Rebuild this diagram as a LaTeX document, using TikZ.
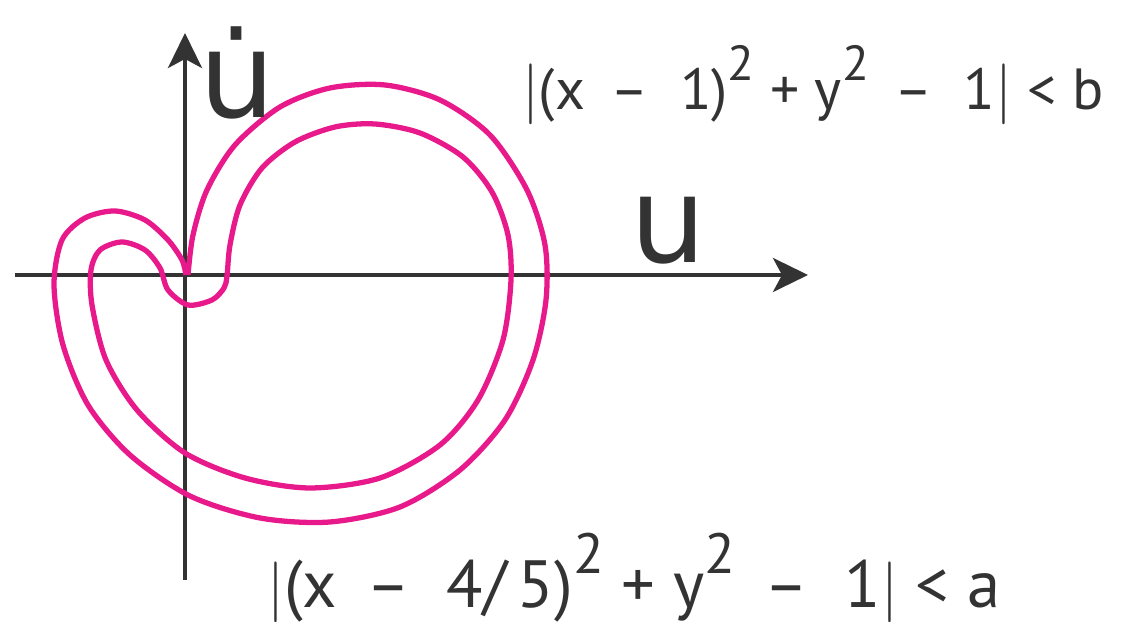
\documentclass[tikz,border=0pt]{standalone}
\usepackage{fontspec}
\setmainfont{PT Sans}
\newfontfamily\labelfont{DejaVu Sans}
\usetikzlibrary{arrows.meta}
\definecolor{tubePink}{HTML}{E8198B}
\definecolor{axisInk}{HTML}{333333}
\newcommand{\sqtwo}{\raisebox{1.0ex}{\scalebox{0.85}{2}}}

\tikzset{
  axisline/.style={draw=axisInk, line width=1.1pt,
    -{Stealth[length=3.5mm, width=3.4mm, inset=0.9mm]}},
  tube/.style={draw=tubePink, line width=1.5pt, line join=round},
  axislabel/.style={text=axisInk, font=\labelfont\fontsize{34}{34}\selectfont},
  condlabel/.style={text=axisInk, font=\fontsize{16.5}{20}\selectfont}
}

\begin{document}
\begin{tikzpicture}
\useasboundingbox (-1.85,-3.47) rectangle (9.46,2.75);

% axes
\coordinate (xstart) at (-1.70,0);
\coordinate (xend) at (6.23,0);
\coordinate (ystart) at (0,-3.05);
\coordinate (yend) at (0,2.42);
\draw[axisline] (xstart) -- (xend);
\draw[axisline] (ystart) -- (yend);

% outer band edge (cusp at the origin)
\draw[tube] plot[smooth] coordinates {
  (0.03,0) (0.08,0.40) (0.22,0.85) (0.50,1.30) (0.95,1.68) (1.45,1.87)
  (2.00,1.90) (2.55,1.75) (3.05,1.40) (3.42,0.85) (3.60,0.30) (3.61,-0.25)
  (3.48,-0.85) (3.20,-1.45) (2.75,-1.95) (2.15,-2.32) (1.45,-2.47)
  (0.75,-2.43) (0.05,-2.21) (-0.55,-1.80) (-0.97,-1.30) (-1.22,-0.70)
  (-1.31,-0.10) (-1.23,0.35) (-1.00,0.57) (-0.70,0.64) (-0.40,0.55)
  (-0.17,0.35) (-0.03,0.15) (0.01,0)};

% inner band edge
\draw[tube] plot[smooth cycle] coordinates {
  (0.42,-0.01) (0.45,0.30) (0.55,0.70) (0.77,1.07) (1.10,1.33) (1.50,1.48)
  (1.90,1.51) (2.35,1.42) (2.78,1.18) (3.07,0.83) (3.23,0.40) (3.26,-0.05)
  (3.18,-0.65) (2.93,-1.25) (2.55,-1.70) (1.95,-2.03) (1.25,-2.13)
  (0.60,-2.03) (0.0,-1.78) (-0.48,-1.35) (-0.79,-0.85) (-0.93,-0.30)
  (-0.94,0.05) (-0.85,0.25) (-0.63,0.33) (-0.40,0.25) (-0.25,0.07)
  (-0.17,-0.15) (0.03,-0.30) (0.27,-0.25) (0.39,-0.13)};

% labels
\node[axislabel] (udot) at (0.52,2.02) {\.u};
\node[axislabel] (uvar) at (4.83,0.45) {u};
\node[condlabel] (condB) at (6.28,1.90) {$|$(x \,--\; 1)\sqtwo{} + y\sqtwo{} \,--\; 1$|$ {\textless} b};
\node[condlabel, font=\fontsize{19}{22}\selectfont] (condA) at (4.49,-3.03) {$|$(x \,--\; 4/\,5)\sqtwo{} + y\sqtwo{} \,--\; 1$|$ {\textless} a};
\end{tikzpicture}
\end{document}
